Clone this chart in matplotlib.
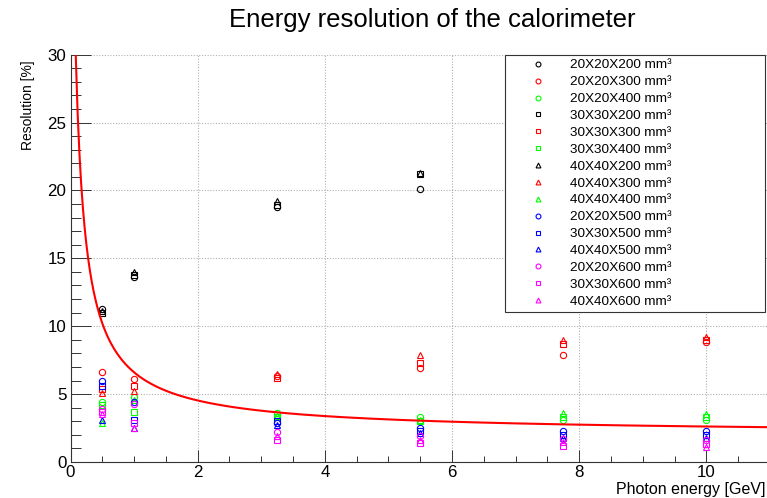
import numpy as np
import matplotlib
matplotlib.use("Agg")
import matplotlib.pyplot as plt
from matplotlib.lines import Line2D
from matplotlib.ticker import MultipleLocator

plt.rcParams['font.family'] = ['Liberation Sans', 'DejaVu Sans']

# Photon energies of the beam runs [GeV]
energies = [0.5, 1.0, 3.25, 5.5, 7.75, 10.0]

# Measured resolution [%] per crystal geometry
labels = [
    "20X20X200", "20X20X300", "20X20X400",
    "30X30X200", "30X30X300", "30X30X400",
    "40X40X200", "40X40X300", "40X40X400",
    "20X20X500", "30X30X500", "40X40X500",
    "20X20X600", "30X30X600", "40X40X600",
]
res_20x20x200 = [11.3, 13.6, 18.8, 20.1, np.nan, np.nan]
res_20x20x300 = [6.6, 6.1, 6.3, 6.9, 7.9, 8.8]
res_20x20x400 = [4.4, 4.8, 3.6, 3.3, 3.1, 3.1]
res_30x30x200 = [10.95, 13.8, 18.9, 21.2, np.nan, np.nan]
res_30x30x300 = [5.4, 5.6, 6.2, 7.3, 8.7, 9.0]
res_30x30x400 = [4.2, 3.7, 3.3, 3.0, 3.3, 3.3]
res_40x40x200 = [11.1, 14.0, 19.2, 21.3, np.nan, np.nan]
res_40x40x300 = [5.1, 5.2, 6.5, 7.9, 9.0, 9.2]
res_40x40x400 = [2.9, 4.6, 3.4, 3.1, 3.6, 3.5]
res_20x20x500 = [6.0, 4.4, 2.9, 2.5, 2.3, 2.3]
res_30x30x500 = [5.6, 3.1, 3.0, 2.3, 2.0, 2.0]
res_40x40x500 = [3.1, 2.5, 2.7, 2.1, 1.8, 1.8]
res_20x20x600 = [3.9, 4.3, 2.2, 1.9, 1.7, 1.6]
res_30x30x600 = [3.7, 2.9, 1.6, 1.4, 1.2, 1.3]
res_40x40x600 = [3.5, 2.5, 1.9, 1.6, 1.5, 1.1]

series = [
    res_20x20x200, res_20x20x300, res_20x20x400,
    res_30x30x200, res_30x30x300, res_30x30x400,
    res_40x40x200, res_40x40x300, res_40x40x400,
    res_20x20x500, res_30x30x500, res_40x40x500,
    res_20x20x600, res_30x30x600, res_40x40x600,
]
colors = ["#000000", "#ff0000", "#00ff00",
          "#000000", "#ff0000", "#00ff00",
          "#000000", "#ff0000", "#00ff00",
          "#0000ff", "#0000ff", "#0000ff",
          "#ff00ff", "#ff00ff", "#ff00ff"]
markers = ["o", "o", "o", "s", "s", "s", "^", "^", "^",
           "o", "s", "^", "o", "s", "^"]

# Resolution parametrisation: a/(E + d) + b/sqrt(E) + c
fit_a, fit_d, fit_b, fit_c = 4.0, 0.08, 1.0, 1.9
fit_range = (0.03, 11.0)


def resolution_model(e):
    return fit_a / (e + fit_d) + fit_b / np.sqrt(e) + fit_c


W, H, DPI = 767, 498, 100
fig = plt.figure(figsize=(W / DPI, H / DPI), dpi=DPI)

x0, x1 = 70.5, 770.0
y_top, y_bot = 54.6, 462.0
ax = fig.add_axes([x0 / W, 1 - y_bot / H, (x1 - x0) / W, (y_bot - y_top) / H])

for vals, col, mk in zip(series, colors, markers):
    ax.plot(energies, vals, linestyle="none", marker=mk, markersize=4.5,
            markerfacecolor="none", markeredgecolor=col, markeredgewidth=0.8,
            zorder=3)

e_fit = np.linspace(fit_range[0], fit_range[1], 400)
ax.plot(e_fit, resolution_model(e_fit), color="#ff0000", linewidth=1.5,
        zorder=4)

ax.set_xlim(0, 11)
ax.set_ylim(0, 30)
ax.xaxis.set_major_locator(MultipleLocator(2))
ax.xaxis.set_minor_locator(MultipleLocator(0.5))
ax.yaxis.set_major_locator(MultipleLocator(5))
ax.yaxis.set_minor_locator(MultipleLocator(1))

ax.grid(True, which="major", color="#b0b0b0", linestyle=(0, (1, 1.5)),
        linewidth=0.8)
ax.set_axisbelow(True)

ax.spines["top"].set_visible(False)
ax.spines["right"].set_visible(False)
for s in ("left", "bottom"):
    ax.spines[s].set_linewidth(0.8)
    ax.spines[s].set_color("#333333")

ax.tick_params(axis="x", which="major", direction="in", length=8.6, width=0.7,
               labelsize=12.2, pad=2.5, color="#333333")
ax.tick_params(axis="x", which="minor", direction="in", length=4.3, width=0.7,
               color="#333333")
ax.tick_params(axis="y", which="major", direction="in", length=14.4, width=0.7,
               labelsize=12.2, pad=3.0, color="#333333")
ax.tick_params(axis="y", which="minor", direction="in", length=7.2, width=0.7,
               color="#333333")

fig.text(432 / W, 1 - 20 / H, "Energy resolution of the calorimeter",
         ha="center", va="center", fontsize=18.5)
fig.text(28 / W, 1 - 60 / H, "Resolution [%]", rotation=90,
         ha="center", va="top", fontsize=10)
fig.text(765 / W, 1 - 494 / H, "Photon energy [GeV]",
         ha="right", va="baseline", fontsize=11.5)

handles = [Line2D([], [], linestyle="none", marker=mk, markersize=3.5,
                  markerfacecolor="none", markeredgecolor=col,
                  markeredgewidth=0.8)
           for col, mk in zip(colors, markers)]
leg_labels = [lab + " mm\u00b3" for lab in labels]
lx0, lx1, ly0, ly1 = 505, 765, 55, 308
leg = fig.legend(handles, leg_labels, loc="upper left",
                 bbox_to_anchor=(lx0 / W, 1 - ly1 / H, (lx1 - lx0) / W,
                                 (ly1 - ly0) / H),
                 mode="expand", fontsize=9.7, frameon=True, fancybox=False,
                 edgecolor="#333333", framealpha=1.0, borderpad=0.3,
                 handlelength=4.3, handletextpad=0.25, labelspacing=0.33,
                 numpoints=1, borderaxespad=0)
leg.get_frame().set_linewidth(0.8)

fig.savefig("out.png", dpi=DPI)
